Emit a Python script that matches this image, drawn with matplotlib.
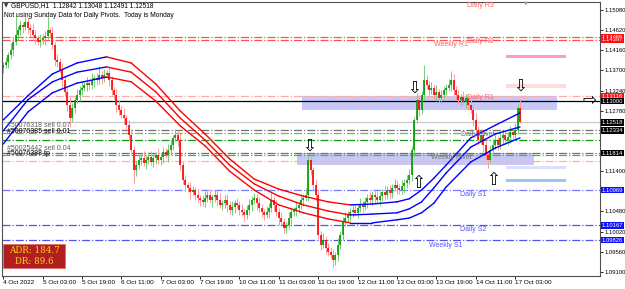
import matplotlib
matplotlib.use("Agg")
import matplotlib.pyplot as plt
import matplotlib.transforms as mtransforms
from matplotlib.patches import Rectangle

# GBPUSD H1, bar 0 = 4 Oct 2022 11:00
first_open = 1.1375
closes = [
    1.1382, 1.1389, 1.1405, 1.1417, 1.1435, 1.1451, 1.1462, 1.1474, 1.1469, 1.1481,
    1.1467, 1.1462, 1.1451, 1.1444, 1.1435, 1.1440, 1.1444, 1.1449, 1.1462, 1.1456,
    1.1428, 1.1394, 1.1389, 1.1371, 1.1348, 1.1321, 1.1291, 1.1261, 1.1284, 1.1303,
    1.1314, 1.1325, 1.1330, 1.1337, 1.1341, 1.1337, 1.1348, 1.1353, 1.1348, 1.1360,
    1.1353, 1.1360, 1.1364, 1.1348, 1.1325, 1.1314, 1.1291, 1.1280, 1.1268, 1.1261,
    1.1245, 1.1223, 1.1188, 1.1143, 1.1154, 1.1166, 1.1170, 1.1159, 1.1166, 1.1172,
    1.1161, 1.1170, 1.1177, 1.1166, 1.1172, 1.1184, 1.1177, 1.1188, 1.1200, 1.1216,
    1.1223, 1.1211, 1.1154, 1.1120, 1.1108, 1.1102, 1.1093, 1.1097, 1.1086, 1.1079,
    1.1074, 1.1070, 1.1079, 1.1086, 1.1074, 1.1081, 1.1086, 1.1074, 1.1063, 1.1067,
    1.1074, 1.1063, 1.1051, 1.1058, 1.1067, 1.1063, 1.1051, 1.1047, 1.1040, 1.1051,
    1.1063, 1.1074, 1.1079, 1.1067, 1.1056, 1.1047, 1.1040, 1.1047, 1.1056, 1.1074,
    1.1063, 1.1047, 1.1033, 1.1024, 1.1010, 1.1017, 1.1033, 1.1047, 1.1051, 1.1056,
    1.1063, 1.1074, 1.1079, 1.1086, 1.1166, 1.1143, 1.1108, 1.1086, 1.0994, 1.0972,
    1.0983, 1.0965, 1.0956, 1.0949, 1.0937, 1.0949, 1.0972, 1.0994, 1.1024, 1.1033,
    1.1040, 1.1047, 1.1051, 1.1045, 1.1056, 1.1063, 1.1058, 1.1070, 1.1079, 1.1074,
    1.1086, 1.1081, 1.1074, 1.1083, 1.1093, 1.1086, 1.1097, 1.1090, 1.1102, 1.1108,
    1.1102, 1.1097, 1.1106, 1.1113, 1.1120, 1.1131, 1.1188, 1.1257, 1.1303, 1.1280,
    1.1314, 1.1348, 1.1337, 1.1325, 1.1330, 1.1314, 1.1321, 1.1307, 1.1314, 1.1325,
    1.1330, 1.1337, 1.1348, 1.1325, 1.1314, 1.1303, 1.1309, 1.1298, 1.1307, 1.1291,
    1.1280, 1.1257, 1.1234, 1.1211, 1.1223, 1.1200, 1.1177, 1.1166, 1.1188, 1.1200,
    1.1211, 1.1200, 1.1216, 1.1223, 1.1211, 1.1218, 1.1229, 1.1223, 1.1234, 1.12842,
    1.12518,
]
# estimated wick lengths beyond the body, in pips
wick_up = [
    8, 12, 6, 15, 10, 18, 9, 11, 7, 14, 10, 8, 16, 12, 6, 13, 9, 11, 20, 8,
    12, 7, 14, 9, 16, 10, 8, 18, 12, 7, 13, 9, 15, 8, 14, 10, 16, 7, 11, 12,
    9, 13, 8, 15, 10, 7, 14, 12, 9, 16, 8, 11, 14, 10, 9, 13, 7, 15, 10, 12,
    13, 10, 7, 15, 9, 12, 8, 14, 11, 7, 13, 10, 16, 9, 12, 8, 14, 10, 7, 13,
    7, 11, 15, 9, 13, 8, 12, 10, 16, 7, 11, 14, 9, 13, 8, 12, 10, 15, 7, 11,
    14, 9, 12, 8, 15, 10, 7, 13, 11, 16, 8, 12, 9, 14, 10, 7, 13, 11, 8, 15,
    9, 13, 10, 16, 8, 12, 7, 14, 11, 9, 15, 8, 12, 10, 13, 7, 16, 9, 11, 14,
    10, 8, 13, 11, 7, 15, 9, 12, 10, 14, 8, 11, 13, 9, 7, 15, 10, 12, 8, 14,
    12, 9, 14, 8, 11, 13, 10, 7, 16, 12, 9, 14, 11, 8, 13, 10, 15, 7, 12, 9,
    8, 14, 11, 13, 9, 12, 7, 15, 10, 8, 13, 11, 16, 9, 12, 10, 14, 8, 11, 13,
    11, 9, 14, 8, 12, 10, 13, 7, 15, 10, 0,
]
wick_dn = [
    10, 7, 13, 9, 15, 8, 12, 10, 14, 7, 11, 16, 9, 13, 8, 12, 10, 15, 7, 11,
    9, 14, 11, 8, 16, 10, 13, 15, 9, 12, 7, 14, 10, 8, 13, 11, 9, 15, 12, 8,
    13, 10, 8, 14, 11, 9, 16, 12, 7, 13, 10, 15, 8, 12, 14, 9, 11, 7, 13, 10,
    8, 12, 14, 9, 11, 13, 7, 15, 10, 12, 8, 14, 11, 9, 13, 10, 16, 8, 12, 9,
    14, 9, 12, 10, 7, 15, 11, 13, 8, 12, 10, 16, 9, 11, 14, 8, 12, 10, 13, 9,
    10, 13, 8, 15, 9, 12, 11, 7, 14, 10, 13, 9, 16, 8, 12, 11, 10, 14, 9, 13,
    12, 9, 14, 8, 15, 11, 10, 13, 9, 12, 7, 14, 10, 8, 13, 11, 15, 9, 12, 10,
    9, 14, 11, 8, 13, 10, 12, 7, 15, 9, 11, 13, 8, 14, 10, 12, 9, 13, 11, 8,
    13, 10, 8, 15, 12, 9, 14, 11, 7, 13, 10, 12, 9, 15, 8, 11, 13, 10, 14, 9,
    11, 8, 14, 10, 12, 9, 15, 7, 13, 11, 8, 14, 10, 12, 9, 16, 11, 13, 8, 10,
    9, 12, 10, 14, 8, 11, 13, 9, 12, 10, 0,
]
high_spikes = {5: 1.1497, 18: 1.1492, 39: 1.1380, 124: 1.1177, 171: 1.1382,
               182: 1.1369, 210: 1.13048}
low_spikes = {27: 1.1241, 53: 1.1113, 134: 1.0921, 197: 1.1147, 210: 1.12491}

# envelope (3 lines), knots at bar index
band_idx = [0, 10, 20, 30, 42, 52, 62, 72, 82, 92, 102, 112, 122, 132, 141, 150,
            160, 165, 170, 175, 180, 190, 200, 210]
band_top = [1.1257, 1.1312, 1.1362, 1.1387, 1.1401, 1.1387, 1.1339, 1.1277, 1.1225,
            1.1168, 1.1122, 1.1099, 1.1083, 1.1070, 1.1063, 1.1065, 1.1070, 1.1077,
            1.1097, 1.1124, 1.1154, 1.1216, 1.1245, 1.1273]
band_mid = [1.1232, 1.1303, 1.1344, 1.1366, 1.1378, 1.1366, 1.1321, 1.1261, 1.1211,
            1.1154, 1.1111, 1.1083, 1.1063, 1.1049, 1.1040, 1.1042, 1.1045, 1.1054,
            1.1070, 1.1102, 1.1136, 1.1195, 1.1225, 1.1241]
band_low = [1.1202, 1.1275, 1.1319, 1.1341, 1.1355, 1.1344, 1.1300, 1.1243, 1.1198,
            1.1140, 1.1097, 1.1063, 1.1045, 1.1031, 1.1022, 1.1022, 1.1029, 1.1033,
            1.1045, 1.1067, 1.1104, 1.1161, 1.1193, 1.1216]

# horizontal levels: price, colour, style
level_prices = [1.14455, 1.14397, 1.13116, 1.13000, 1.12518, 1.12334, 1.1227, 1.1211,
                1.11814, 1.1177, 1.1163, 1.10969, 1.10167, 1.09826]
level_colors = ["#ff5050", "#ff5050", "#ffaaaa", "#000000", "#c8c8c8", "#707070",
                "#66bb66", "#119911", "#707070", "#55aa55", "#ffb0a0", "#7777ff",
                "#5555ee", "#5555ee"]
level_styles = ["dashdot", "dashdot", "dashdot", "solid", "solid", "dashdot", "dashdot",
                "dashdot", "dashdot", "dashdot", "dashdot", "dashdot", "dashdot", "dashdot"]

# zones: (bar start, bar end, price low, price high, colour)
zones = [(121.5, 225.0, 1.12797, 1.13116, "#c8c8f6"),
         (119.5, 215.5, 1.1154, 1.1182, "#c8c8f6"),
         (204.5, 228.5, 1.1398, 1.1405, "#ff99cc"),
         (204.5, 228.5, 1.1330, 1.1339, "#ffdcdc"),
         (204.5, 228.5, 1.1145, 1.1152, "#dde0fb"),
         (204.5, 228.5, 1.1115, 1.1122, "#99c8ec")]

# price boxes on the right scale
box_prices = [1.14455, 1.14397, 1.13116, 1.13000, 1.12518, 1.12334, 1.11814,
              1.10969, 1.10167, 1.09826]
box_colors = ["#ff1010", "#ff1010", "#ff1010", "#000000", "#000000", "#000000",
              "#000000", "#1010ff", "#1010ff", "#1010ff"]

# scale ticks (the ones hidden under price boxes are left out)
tick_prices = [1.15080, 1.14620, 1.14160, 1.13700, 1.13240, 1.12780,
               1.11400, 1.10480, 1.10020, 1.09560, 1.09100]
time_ticks = [0, 16, 32, 48, 64, 80, 96, 112, 128, 144, 160, 176, 192, 208]
time_labels = ["4 Oct 2022", "5 Oct 03:00", "5 Oct 19:00", "6 Oct 11:00",
               "7 Oct 03:00", "7 Oct 19:00", "10 Oct 11:00", "11 Oct 03:00",
               "11 Oct 19:00", "12 Oct 11:00", "13 Oct 03:00", "13 Oct 19:00",
               "14 Oct 11:00", "17 Oct 03:00"]

# signal arrows: (bar, price, glyph)
arrows = [(124.2, 1.1199, "\u21e9"), (167.0, 1.1330, "\u21e9"), (210.0, 1.1336, "\u21e9"),
          (168.5, 1.1112, "\u21e7"), (199.0, 1.1119, "\u21e7"), (238.0, 1.1302, "\u21e8")]

pivot_texts = [("Daily R3", 194, 1.1519, "#ff6060"), ("Weekly R1", 182, 1.1430, "#ff6060"),
               ("Daily R2", 194, 1.1437, "#ff6060"), ("Daily R1", 194, 1.1308, "#ff6060"),
               ("Daily Pivot", 193, 1.1223, "#707070"), ("Weekly Pivot", 182, 1.1172, "#707070"),
               ("Daily S1", 191, 1.1086, "#5555ff"), ("Daily S2", 191, 1.1006, "#5555ff"),
               ("Weekly S1", 180, 1.0971, "#5555ff")]
order_texts = [("#50076318 sell 0.07", 1.12334, "#606060"),
               ("#50076385 sell 0.01", 1.1220, "#000000"),
               ("#50025442 sell 0.04", 1.11814, "#606060"),
               ("#50076388 tp", 1.1170, "#000000")]

plt.rcParams["font.family"] = ["Liberation Sans", "DejaVu Sans"]
W, H = 625, 289
fig = plt.figure(figsize=(W / 100, H / 100), dpi=100)
ax = fig.add_axes([2 / W, 1 - 276 / H, 598 / W, 274 / H])
ax.set_xlim(-0.5, 242.5)
ax.set_ylim(1.09007, 1.15262)

# zones
for x0, x1, p0, p1, c in zones:
    ax.add_patch(Rectangle((x0, p0), x1 - x0, p1 - p0, fc=c, ec="none", zorder=1))

# levels
for p, c, s in zip(level_prices, level_colors, level_styles):
    ax.axhline(p, color=c, ls=s, lw=0.9, zorder=1.5)

# candles
opens = [first_open] + closes[:-1]
for i, (o, c) in enumerate(zip(opens, closes)):
    hi = high_spikes.get(i, max(o, c) + wick_up[i] * 0.0001)
    lo = low_spikes.get(i, min(o, c) - wick_dn[i] * 0.0001)
    up = c >= o
    ax.vlines(i, lo, hi, color="#77cc77" if up else "#ff9999", lw=0.7, zorder=2)
    ax.vlines(i, min(o, c), max(o, c) + 0.00005, color="#009900" if up else "#ff0000",
              lw=1.2, zorder=2.2)

# envelope lines, blue while rising, red while falling
for band in (band_top, band_mid, band_low):
    for k in range(len(band_idx) - 1):
        col = "#0000ff" if band[k + 1] >= band[k] else "#ff0000"
        ax.plot(band_idx[k:k + 2], band[k:k + 2], color=col, lw=1.0,
                solid_capstyle="round", zorder=3)

# arrows
for bx, p, g in arrows:
    ax.text(bx, p, g, fontsize=12, ha="center", va="center", color="black",
            family="DejaVu Sans", zorder=6, clip_on=False)

for t, bx, p, c in pivot_texts:
    ax.text(bx, p, t, fontsize=5, color=c, ha="center", va="center", zorder=4)
for t, p, c in order_texts:
    ax.text(1.5, p + 0.0003, t, fontsize=5, color=c, ha="left", va="bottom", zorder=4)

# axes styling
for s in ax.spines.values():
    s.set_color("#505050")
    s.set_linewidth(0.8)
ax.yaxis.tick_right()
ax.set_yticks(tick_prices)
ax.set_yticklabels([f"{p:.5f}" for p in tick_prices])
ax.tick_params(axis="y", labelsize=4.2, length=2, pad=1.5, width=0.6)
ax.set_xticks(time_ticks)
ax.set_xticklabels(time_labels)
ax.tick_params(axis="x", labelsize=4.6, length=2, pad=1, width=0.6)
for lab in ax.get_xticklabels():
    lab.set_ha("left")

trans = mtransforms.blended_transform_factory(ax.transAxes, ax.transData)
for p, c in zip(box_prices, box_colors):
    ax.text(1.003, p, f"{p:.5f}", transform=trans, fontsize=4.2, color="white",
            ha="left", va="center", zorder=10, clip_on=False,
            bbox=dict(boxstyle="square,pad=0.15", fc=c, ec="none"))

# header texts
fig.text(4 / W, 1 - 6 / H, "\u25bc", fontsize=4, color="#333333", va="center",
         family="DejaVu Sans")
fig.text(11 / W, 1 - 6 / H, "GBPUSD,H1  1.12842 1.13048 1.12491 1.12518",
         fontsize=4.8, va="center")
fig.text(4 / W, 1 - 15.5 / H, "Not using Sunday Data for Daily Pivots.  Today is Monday",
         fontsize=4.8, va="center")
fig.text(526 / W, 1 - 3 / H, "\u25bc", fontsize=3.5, color="#999999", ha="center",
         va="center", family="DejaVu Sans")

# ADR box
fig.patches.append(Rectangle((3 / W, 1 - 268 / H), 62 / W, 24 / H, fc="#b01e1e",
                             ec="#e07070", lw=0.6, transform=fig.transFigure))
fig.text(34 / W, 1 - 250.5 / H, "ADR: 184.7", fontsize=6.3, color="#ffd21a",
         family="DejaVu Serif", ha="center", va="center")
fig.text(34 / W, 1 - 261.5 / H, "DR: 89.6", fontsize=6.3, color="#ffd21a",
         family="DejaVu Serif", ha="center", va="center")

fig.savefig("out.png", dpi=100)
